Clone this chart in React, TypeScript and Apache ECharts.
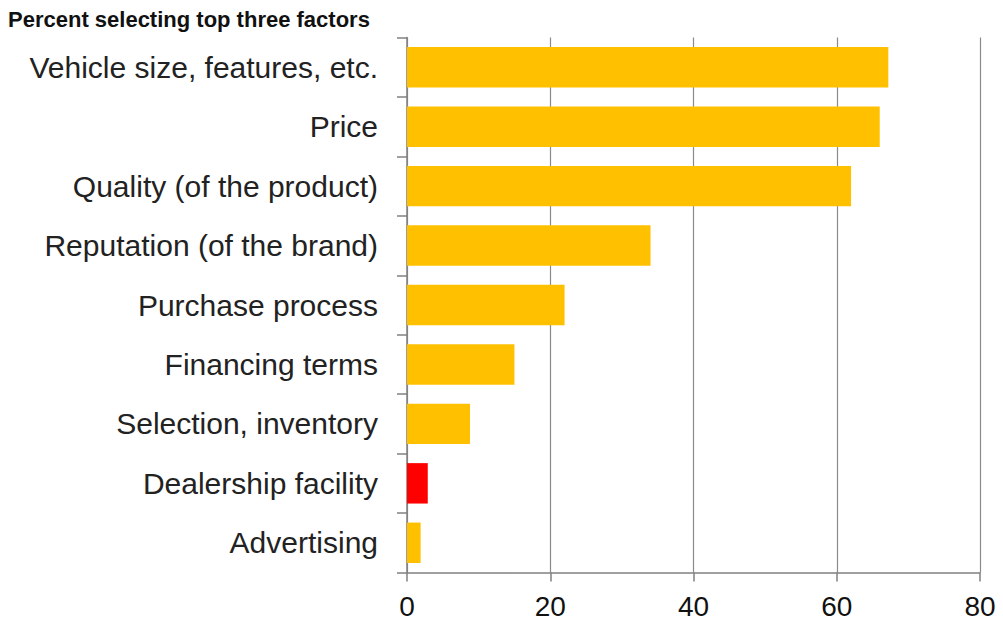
import React, { useEffect, useRef } from "react";
import * as echarts from "echarts";

const categories = [
  "Vehicle size, features, etc.",
  "Price",
  "Quality (of the product)",
  "Reputation (of the brand)",
  "Purchase process",
  "Financing terms",
  "Selection, inventory",
  "Dealership facility",
  "Advertising",
];
const values = [67.2, 66, 62, 34, 22, 15, 8.8, 2.9, 1.9];
const highlight = "Dealership facility";
const xTicks = [0, 20, 40, 60, 80];
const title = "Percent selecting top three factors";

export default function App() {
  const ref = useRef<HTMLDivElement>(null);
  useEffect(() => {
    const chart = echarts.init(ref.current!, null, { renderer: "svg" });
    const font = "'Liberation Sans', Arial, sans-serif";
    chart.setOption({
      animation: false,
      backgroundColor: "#ffffff",
      title: {
        text: title,
        left: 0,
        top: 0,
        padding: 0,
        textStyle: { fontFamily: font, fontSize: 22, fontWeight: "bold", color: "#111" },
      },
      grid: { left: 399, right: 23, top: 29.5, bottom: 51.5, containLabel: false },
      xAxis: {
        type: "value",
        min: xTicks[0],
        max: xTicks[xTicks.length - 1],
        interval: 20,
        axisLine: { show: true, lineStyle: { color: "#808080", width: 1.5 } },
        axisTick: { show: true, length: 9, lineStyle: { color: "#808080", width: 1.5 } },
        splitLine: { show: true, lineStyle: { color: "#8a8a8a", width: 1.2 } },
        axisLabel: { fontFamily: font, fontSize: 28, color: "#111", margin: 20 },
      },
      yAxis: {
        type: "category",
        data: categories,
        inverse: true,
        axisLine: { show: true, lineStyle: { color: "#808080", width: 1.5 } },
        axisTick: { show: true, length: 10, lineStyle: { color: "#808080", width: 1.5 } },
        axisLabel: { fontFamily: font, fontSize: 30, color: "#222", margin: 29 },
      },
      series: [
        {
          type: "bar",
          barCategoryGap: "32%",
          data: values.map((v, i) => ({
            value: v,
            itemStyle: { color: categories[i] === highlight ? "#FF0000" : "#FFC000" },
          })),
        },
      ],
    });
    return () => chart.dispose();
  }, []);
  return <div ref={ref} style={{ width: 995, height: 616 }} />;
}
